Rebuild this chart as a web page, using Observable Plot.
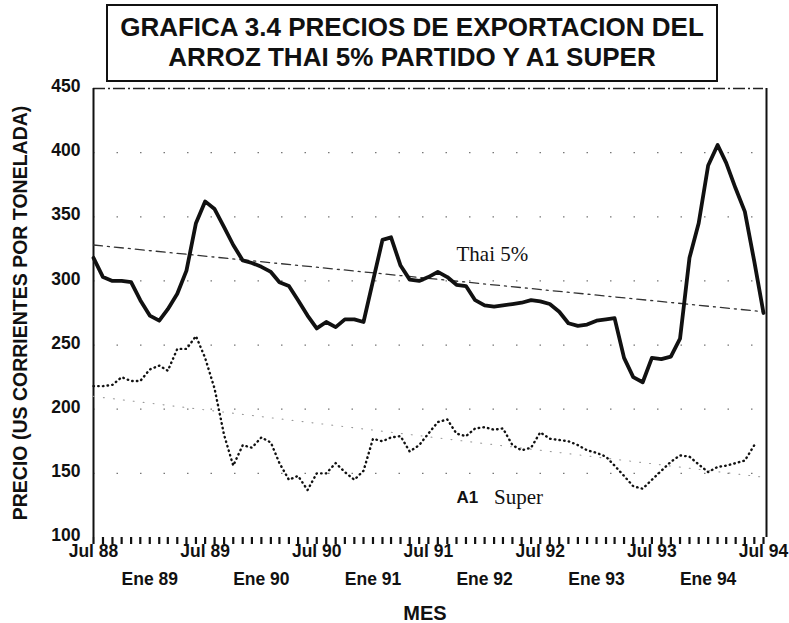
<!DOCTYPE html>
<html>
<head>
<meta charset="utf-8">
<script src="https://cdn.jsdelivr.net/npm/d3@7"></script>
<script src="https://cdn.jsdelivr.net/npm/@observablehq/plot@0.6"></script>
<style>
  body { margin: 0; background: #fff; }
  #wrap { position: relative; width: 789px; height: 623px; overflow: hidden;
          font-family: "Liberation Sans", Arial, sans-serif; color: #111; }
  #wrap svg { position: absolute; left: 0; top: 0; overflow: visible; }
  #title { position: absolute; left: 106px; top: 4px; width: 608px; height: 68px;
           border: 2px solid #111; text-align: center; font-weight: bold;
           font-size: 26px; line-height: 30px; padding-top: 6px; box-sizing: content-box; }
  #title div { white-space: nowrap; }
  #ylabel { position: absolute; left: 20px; top: 313px; transform: translate(-50%, -50%) rotate(-90deg);
            white-space: nowrap; font-weight: bold; font-size: 19.5px; }
  #xlabel { position: absolute; left: 425px; top: 613px; transform: translate(-50%, -50%);
            font-weight: bold; font-size: 20px; }
</style>
</head>
<body>
<div id="wrap">
  <div id="title"><div>GRAFICA 3.4 PRECIOS DE EXPORTACION DEL</div><div>ARROZ THAI 5% PARTIDO Y A1 SUPER</div></div>
  <div id="ylabel">PRECIO (US CORRIENTES POR TONELADA)</div>
  <div id="xlabel">MES</div>
</div>
<script>
// ---- data (monthly, Jul 1988 .. Jul 1994) ----
const startYear = 1988, startMonth = 6; // July 1988
const thaiValues = [318,303,300,300,299,285,273,269,278,290,308,345,362,356,342,328,316,314,311,307,
  299,296,285,273,263,268,264,270,270,268,300,332,334,312,301,300,303,307,303,297,
  296,285,281,280,281,282,283,285,284,282,276,267,265,266,269,270,271,240,225,221,
  240,239,241,255,318,345,390,406,392,372,354,315,275];
const a1Values = [218,218,219,225,222,222,231,234,230,247,247,257,240,216,180,156,172,170,178,174,
  158,145,148,137,150,150,158,151,145,152,177,175,178,179,167,172,181,190,192,181,
  179,185,186,184,185,172,168,170,182,177,176,175,172,168,166,163,156,148,140,138,
  145,152,159,164,163,157,151,155,156,158,160,172];
const thaiTrend = [328, 276];   // Jul 88 -> Jul 94
const a1Trend = [210, 147];     // Jul 88 -> Jul 94
const yTicks = [100,150,200,250,300,350,400,450];
const gridValues = [150,200,250,300,350,400];
const julLabels = ["Jul 88","Jul 89","Jul 90","Jul 91","Jul 92","Jul 93","Jul 94"];
const eneLabels = ["Ene 89","Ene 90","Ene 91","Ene 92","Ene 93","Ene 94"];
const seriesLabels = [
  {text: "Thai 5%", month: 39, value: 321, font: "Liberation Serif, Times New Roman, serif", size: 21, weight: "normal"},
  {text: "A1", month: 39, value: 131, font: "Liberation Sans, Arial, sans-serif", size: 17, weight: "bold"},
  {text: "Super", month: 43, value: 131, font: "Liberation Serif, Times New Roman, serif", size: 21, weight: "normal"}
];

const m = i => new Date(Date.UTC(startYear, startMonth + i, 1));
const thai = thaiValues.map((v, i) => ({date: m(i), value: v}));
const a1 = a1Values.map((v, i) => ({date: m(i), value: v}));
const monthTicks = d3.range(73).map(i => ({date: m(i)}));
const julDates = julLabels.map((t, i) => ({date: m(i * 12), text: t}));
const eneDates = eneLabels.map((t, i) => ({date: m(6 + i * 12), text: t}));
const trendThai = [{date: m(0), value: thaiTrend[0]}, {date: m(72), value: thaiTrend[1]}];
const trendA1 = [{date: m(0), value: a1Trend[0]}, {date: m(72), value: a1Trend[1]}];

const chart = Plot.plot({
  width: 789, height: 623,
  marginLeft: 93, marginRight: 26, marginTop: 88, marginBottom: 86,
  style: {background: "transparent", fontFamily: "Liberation Sans, Arial, sans-serif", color: "#111", overflow: "visible"},
  x: {type: "utc", domain: [m(0), m(72)], axis: null},
  y: {domain: [100, 450], axis: null},
  marks: [
    Plot.ruleY(gridValues, {stroke: "#777", strokeWidth: 1.3, strokeDasharray: "1.5,22"}),
    Plot.ruleY([450], {stroke: "#222", strokeWidth: 1.3, strokeDasharray: "12,3,2,3"}),
    Plot.ruleX([m(0)], {y1: 100, y2: 450, stroke: "#111", strokeWidth: 2}),
    Plot.ruleX([m(72)], {y1: 100, y2: 450, stroke: "#111", strokeWidth: 2, dx: 3}),
    // monthly tick marks just below the baseline
    Plot.ruleX(monthTicks, {x: "date", y1: 100, y2: 100, stroke: "#111", strokeWidth: 2.2, insetBottom: -7}),
    Plot.text(julDates, {x: "date", text: "text", frameAnchor: "bottom", dy: 19, fontSize: 17.5, fontWeight: "bold", fill: "#111"}),
    Plot.text(eneDates, {x: "date", text: "text", frameAnchor: "bottom", dy: 47, fontSize: 17.5, fontWeight: "bold", fill: "#111"}),
    Plot.text(yTicks, {y: d => d, text: d => String(d), frameAnchor: "left", textAnchor: "end", dx: -13, dy: -2, fontSize: 17.5, fontWeight: "bold", fill: "#111"}),
    Plot.line(trendA1, {x: "date", y: "value", stroke: "#999", strokeWidth: 1.1, strokeDasharray: "1,9"}),
    Plot.line(trendThai, {x: "date", y: "value", stroke: "#333", strokeWidth: 1.3, strokeDasharray: "9,5,2,5"}),
    Plot.line(a1, {x: "date", y: "value", stroke: "#111", strokeWidth: 2.4, strokeDasharray: "0.5,4.2", strokeLinecap: "round"}),
    Plot.line(thai, {x: "date", y: "value", stroke: "#111", strokeWidth: 3.8, strokeLinejoin: "round", strokeLinecap: "round"}),
    ...seriesLabels.map(l => Plot.text([l], {x: d => m(d.month), y: "value", text: "text", textAnchor: "start",
      fontFamily: l.font, fontSize: l.size, fontWeight: l.weight, fill: "#111"}))
  ]
});
document.getElementById("wrap").appendChild(chart);
</script>
</body>
</html>
